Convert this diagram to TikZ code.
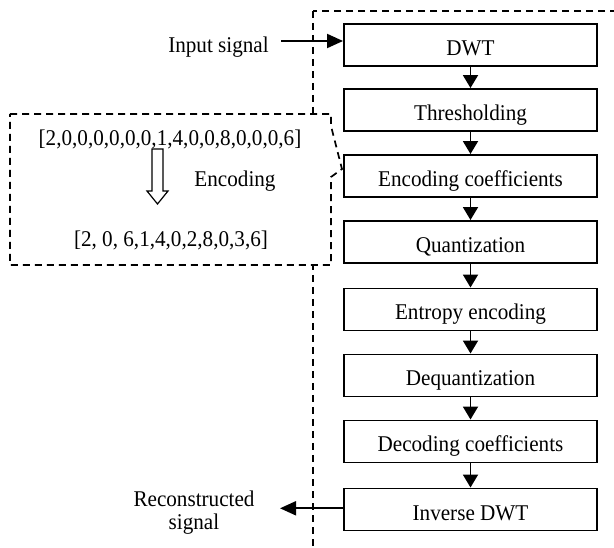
\documentclass[tikz,border=0pt]{standalone}
\usepackage{fontspec}
\setmainfont{Liberation Serif}[FakeStretch=0.94]
\usetikzlibrary{arrows.meta}
\begin{document}
\begin{tikzpicture}[x=1pt,y=-1pt,
  font=\fontsize{22.5}{22.6}\selectfont,
  stagebox/.style={draw, line width=1.9pt, minimum width=253pt, minimum height=42pt,
    inner sep=0pt, text height=21pt, text depth=0pt},
  label/.style={inner sep=0pt, align=center},
  flow/.style={line width=1.9pt, -{Triangle[length=13pt,width=15pt]}},
  sideflow/.style={line width=1.9pt, -{Triangle[length=16pt,width=14pt]}},
  dashbox/.style={line width=1.7pt, dash pattern=on 7pt off 5pt}]
\useasboundingbox (0,0) rectangle (614,548);
\clip (0,0) rectangle (614,548);

% outer dashed frame around the processing chain
\draw[dashbox] (313,11) rectangle (640,580);

% encoding example call-out
\draw[dashbox, fill=white] (10,114) -- (331,114) -- (331,126) -- (342,169)
  -- (331,177) -- (331,265) -- (10,265) -- cycle;

% processing stages
\node[stagebox] (dwt)  at (470.5,45)    {DWT};
\node[stagebox] (thr)  at (470.5,110)   {Thresholding};
\node[stagebox] (enc)  at (470.5,176)   {Encoding coefficients};
\node[stagebox] (qnt)  at (470.5,242)   {Quantization};
\node[stagebox] (ent)  at (470.5,309.5) {Entropy encoding};
\node[stagebox] (deq)  at (470.5,375.5) {Dequantization};
\node[stagebox] (dec)  at (470.5,441.5) {Decoding coefficients};
\node[stagebox] (idwt) at (470.5,509.5) {Inverse DWT};

\draw[flow] (dwt) -- (thr);
\draw[flow] (thr) -- (enc);
\draw[flow] (enc) -- (qnt);
\draw[flow] (qnt) -- (ent);
\draw[flow] (ent) -- (deq);
\draw[flow] (deq) -- (dec);
\draw[flow] (dec) -- (idwt);

% input and output
\node[label] (in) at (218.5,47.5) {Input signal};
\coordinate (inend) at (281,41);
\draw[sideflow] (inend) -- (inend -| dwt.west);

\node[label] (out) at (194,512.7) {Reconstructed\\signal};
\coordinate (outend) at (280,508.3);
\draw[sideflow] (idwt.west |- outend) -- (outend);

% call-out contents
\node[label] (seq)  at (170,139) {[2,0,0,0,0,0,0,1,4,0,0,8,0,0,0,6]};
\node[label] (code) at (235,181) {Encoding};
\node[label] (res)  at (171,240) {[2, 0, 6,1,4,0,2,8,0,3,6]};
\draw[line width=1.2pt, fill=white] (152,149) -- (163,149) -- (163,191) -- (168,191)
  -- (157.5,204) -- (147,191) -- (152,191) -- cycle;
\end{tikzpicture}
\end{document}
